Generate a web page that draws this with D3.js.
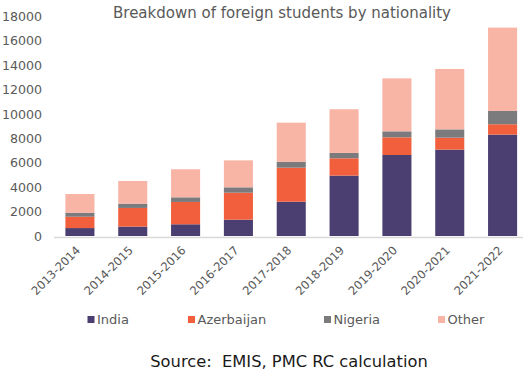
<!DOCTYPE html>
<html>
<head>
<meta charset="utf-8">
<script src="https://cdn.jsdelivr.net/npm/d3@7"></script>
<style>
  body { margin: 0; background: #fff; }
  text { font-family: "DejaVu Sans", sans-serif; }
</style>
</head>
<body>
<script>
// Chart data
var years = ["2013-2014", "2014-2015", "2015-2016", "2016-2017", "2017-2018",
             "2018-2019", "2019-2020", "2020-2021", "2021-2022"];
var india      = [650, 770, 960, 1340, 2810, 4950, 6640, 7080, 8310];
var azerbaijan = [930, 1530, 1830, 2210, 2790, 1420, 1450, 980, 850];
var nigeria    = [330, 350, 380, 440, 490, 440, 490, 680, 1090];
var other      = [1530, 1860, 2300, 2210, 3200, 3580, 4340, 4950, 6830];
var seriesNames = ["India", "Azerbaijan", "Nigeria", "Other"];
var yTicks = [0, 2000, 4000, 6000, 8000, 10000, 12000, 14000, 16000, 18000];

var colors = ["#4b3f72", "#f15f3d", "#7b7b7e", "#f8b4a4"];

var width = 523, height = 372;

var svg = d3.select("body")
    .append("svg")
        .attr("width", width)
        .attr("height", height);

// build rows for the stack
var rows = years.map(function (y, i) {
    return { year: y, India: india[i], Azerbaijan: azerbaijan[i], Nigeria: nigeria[i], Other: other[i] };
});
var stacked = d3.stack().keys(seriesNames)(rows);

// Set the ranges
var xScale = d3.scaleBand().domain(years).range([53.5, 529]).paddingInner(0.45).paddingOuter(0.225);
var yScale = d3.scaleLinear().domain([0, 18000]).range([236, 16.4]);

// Title
svg.append("text")
    .attr("x", 282)
    .attr("y", 18.3)
    .attr("text-anchor", "middle")
    .attr("fill", "#595959")
    .style("font-size", "15px")
    .text("Breakdown of foreign students by nationality");

// Y axis (labels only)
svg.append("g")
    .attr("transform", "translate(42,0)")
    .call(d3.axisLeft(yScale).tickValues(yTicks).tickSize(0).tickPadding(0).tickFormat(d3.format("d")))
    .call(function (g) { g.select(".domain").remove(); })
    .selectAll("text")
        .attr("fill", "#595959")
        .style("font-size", "12.6px")
        .style("font-family", "DejaVu Sans");

// Bars
svg.selectAll(".series")
    .data(stacked)
    .enter().append("g")
        .attr("fill", function (d, i) { return colors[i]; })
    .selectAll("rect")
    .data(function (d) { return d; })
    .enter().append("rect")
        .attr("x", function (d) { return xScale(d.data.year); })
        .attr("y", function (d) { return yScale(d[1]); })
        .attr("width", xScale.bandwidth())
        .attr("height", function (d) { return yScale(d[0]) - yScale(d[1]); });

// X axis
var xAxis = svg.append("g")
    .attr("transform", "translate(0,237)")
    .call(d3.axisBottom(xScale).tickSize(0).tickPadding(0));
xAxis.select(".domain").attr("stroke", "#d9d9d9").attr("stroke-width", 1.3);
xAxis.selectAll("text")
    .attr("fill", "#595959")
    .style("font-size", "11.6px")
    .style("font-family", "DejaVu Sans")
    .style("text-anchor", "end")
    .attr("y", 0)
    .attr("dy", 0)
    .attr("transform", "translate(1,14) rotate(-45)");

// Legend
var legendX = [87.5, 188, 324, 438];
var legend = svg.append("g");
seriesNames.forEach(function (name, i) {
    legend.append("rect")
        .attr("x", legendX[i])
        .attr("y", 316)
        .attr("width", 7)
        .attr("height", 7)
        .attr("fill", colors[i]);
    legend.append("text")
        .attr("x", legendX[i] + 9.5)
        .attr("y", 324)
        .attr("fill", "#595959")
        .style("font-size", "13px")
        .text(name);
});

// Source
svg.append("text")
    .attr("x", 289)
    .attr("y", 367.3)
    .attr("text-anchor", "middle")
    .attr("fill", "#1a1a1a")
    .attr("xml:space", "preserve")
    .style("white-space", "pre")
    .style("font-size", "16.3px")
    .text("Source:  EMIS, PMC RC calculation");
</script>
</body>
</html>
